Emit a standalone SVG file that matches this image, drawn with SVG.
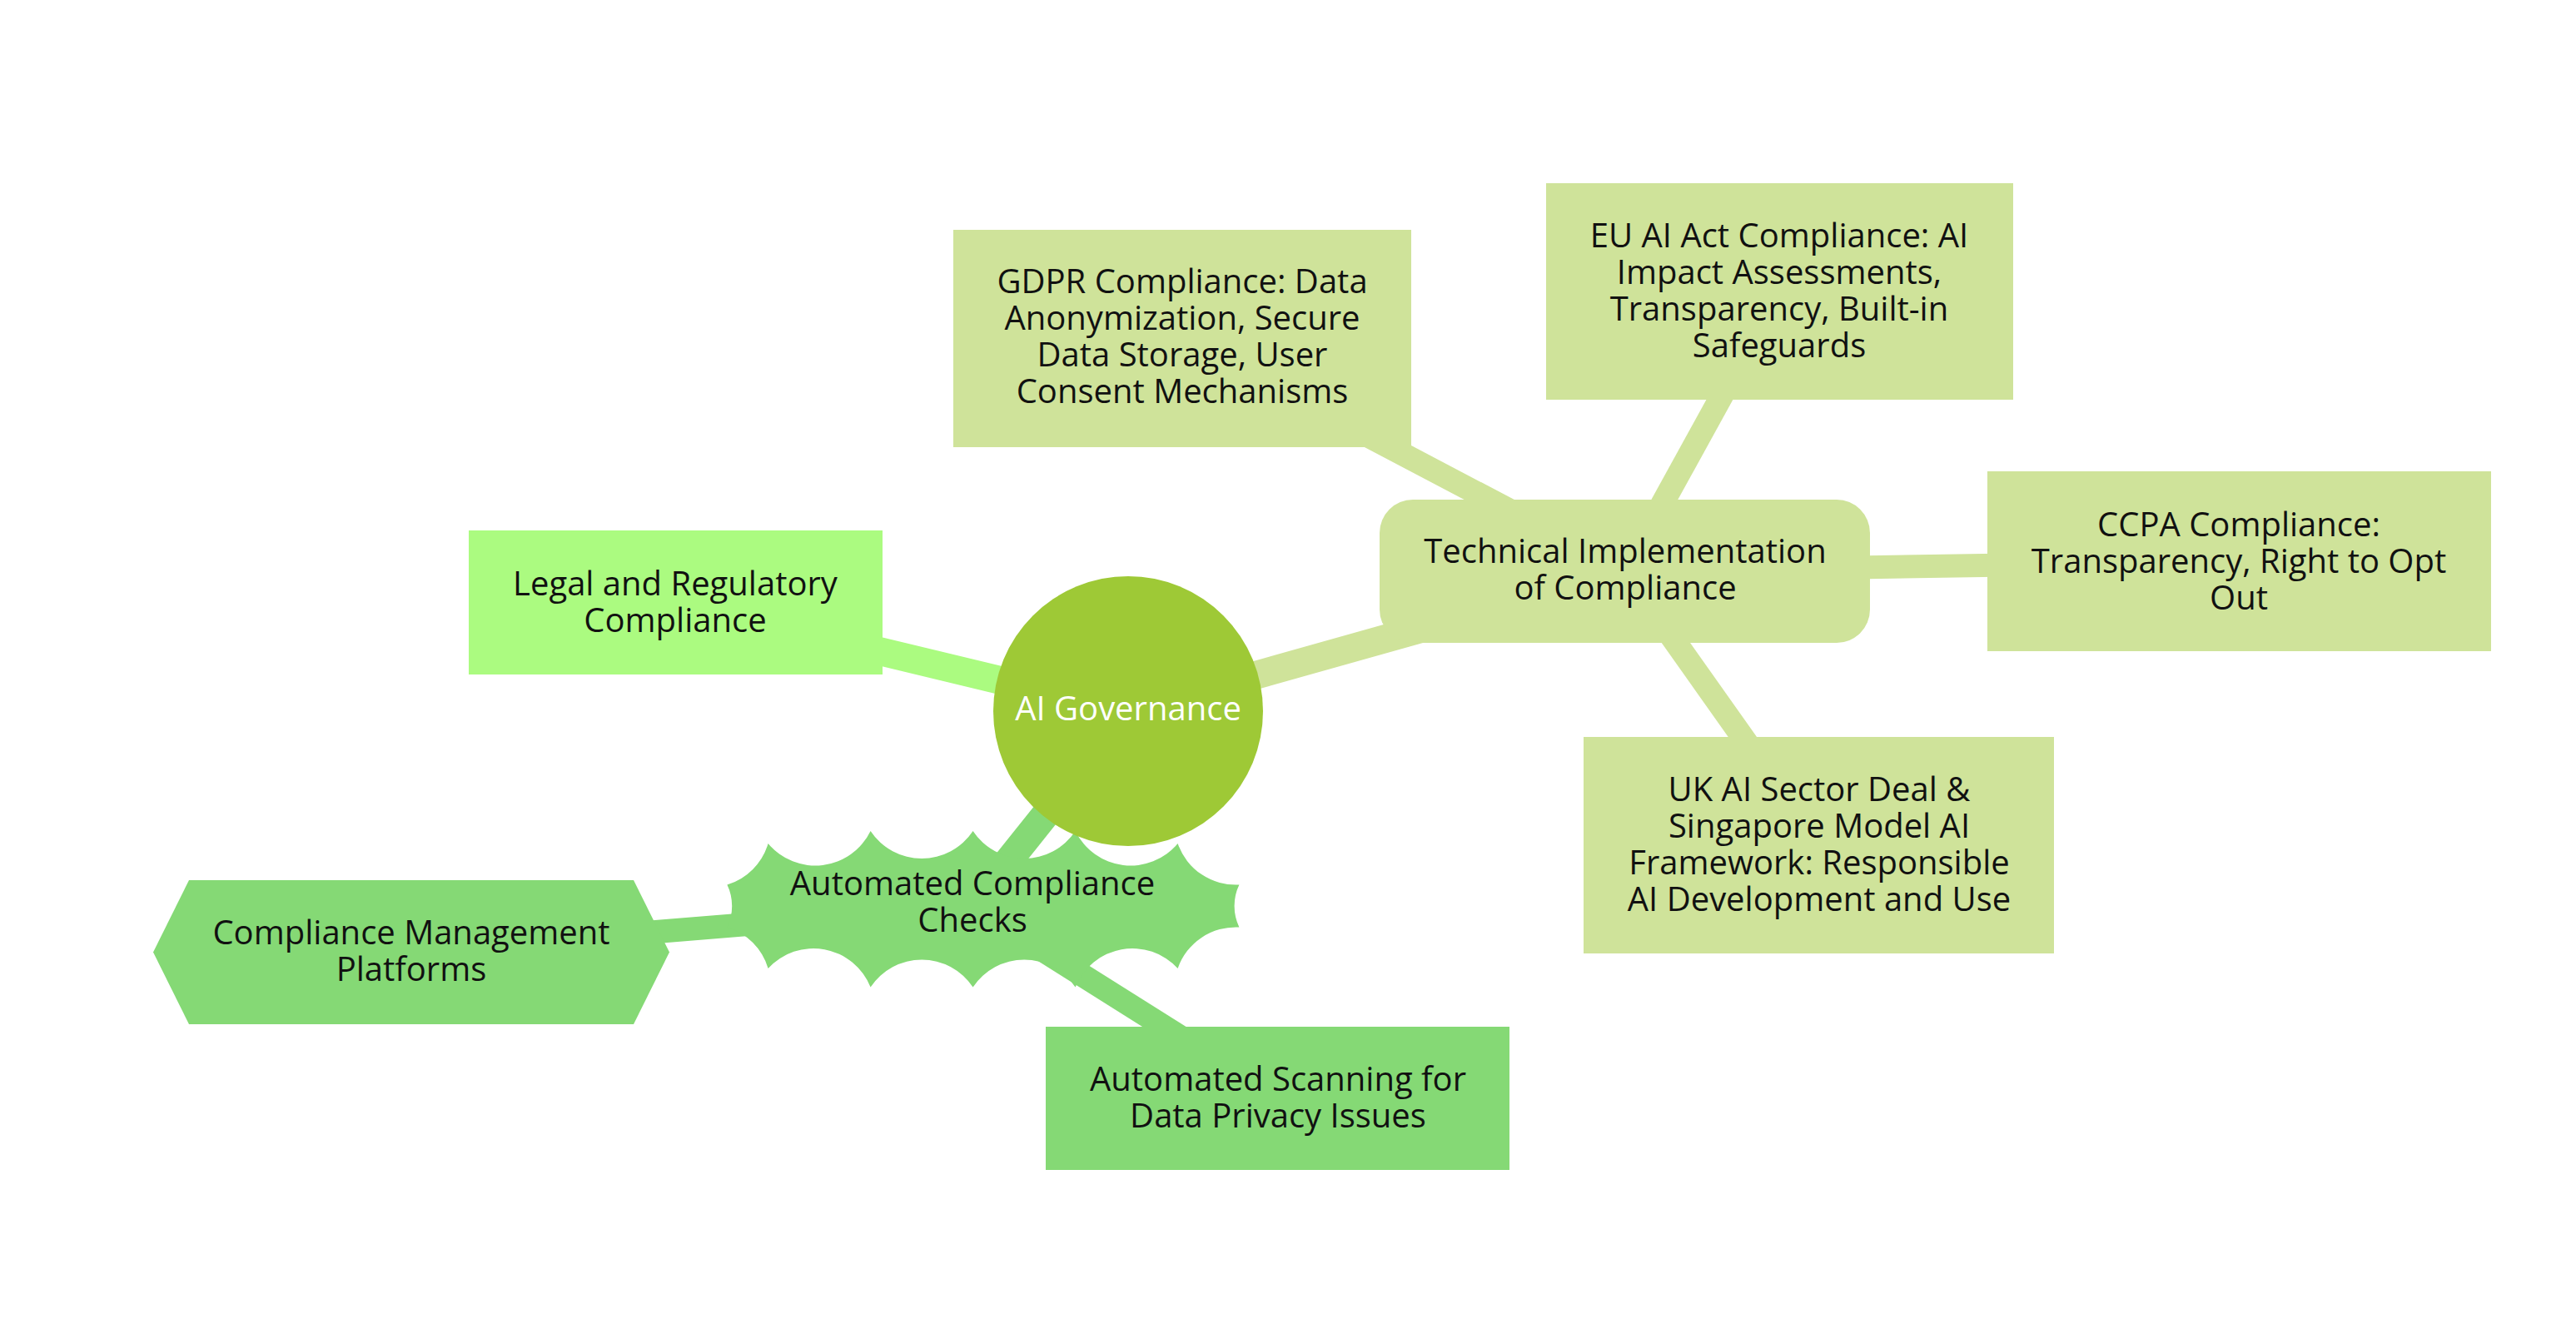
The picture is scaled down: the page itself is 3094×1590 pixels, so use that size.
<svg xmlns="http://www.w3.org/2000/svg" width="3094" height="1590" viewBox="0 0 3094 1590">
<style>
  .t { font-family: "Open Sans", "DejaVu Sans", sans-serif; font-size: 40px; fill: #111; text-anchor: middle; }
  .tw { fill: #ffffff; }
  .e0 { stroke-width: 34; fill: none; }
  .e1 { stroke-width: 28; fill: none; }
  .cLegal { fill: #abfb80; }
  .cTech { fill: #cfe39a; }
  .cAuto { fill: #85d975; }
  .sLegal { stroke: #abfb80; }
  .sTech { stroke: #cfe39a; }
  .sAuto { stroke: #85d975; }
</style>
<rect x="0" y="0" width="3094" height="1590" fill="#ffffff"/>
<g id="connectors">
  <line class="e0 sLegal" x1="1355" y1="854" x2="811" y2="723"/>
  <line class="e0 sTech" x1="1355" y1="854" x2="1952" y2="686"/>
  <line class="e0 sAuto" x1="1355" y1="854" x2="1168" y2="1088"/>
  <line class="e1 sTech" x1="1952" y1="686" x2="1420" y2="406"/>
  <line class="e1 sTech" x1="1952" y1="686" x2="2137" y2="350"/>
  <line class="e1 sTech" x1="1952" y1="686" x2="2689" y2="674"/>
  <line class="e1 sTech" x1="1952" y1="686" x2="2185" y2="1015"/>
  <line class="e1 sAuto" x1="1168" y1="1088" x2="494" y2="1143"/>
  <line class="e1 sAuto" x1="1168" y1="1088" x2="1535" y2="1319"/>
</g>
<g id="node-legal">
  <rect class="cLegal" x="563" y="637" width="497" height="173"/>
  <text class="t" x="811" y="715">Legal and Regulatory</text>
  <text class="t" x="811" y="759">Compliance</text>
</g>
<g id="node-technical">
  <rect class="cTech" x="1657" y="600" width="589" height="172" rx="40" ry="40"/>
  <text class="t" x="1952" y="676">Technical Implementation</text>
  <text class="t" x="1952" y="720">of Compliance</text>
</g>
<g id="node-gdpr">
  <rect class="cTech" x="1145" y="276" width="550" height="261"/>
  <text class="t" x="1420" y="352">GDPR Compliance: Data</text>
  <text class="t" x="1420" y="396">Anonymization, Secure</text>
  <text class="t" x="1420" y="440">Data Storage, User</text>
  <text class="t" x="1420" y="484">Consent Mechanisms</text>
</g>
<g id="node-euaiact">
  <rect class="cTech" x="1857" y="220" width="561" height="260"/>
  <text class="t" x="2137" y="297">EU AI Act Compliance: AI</text>
  <text class="t" x="2137" y="341">Impact Assessments,</text>
  <text class="t" x="2137" y="385">Transparency, Built-in</text>
  <text class="t" x="2137" y="429">Safeguards</text>
</g>
<g id="node-ccpa">
  <rect class="cTech" x="2387" y="566" width="605" height="216"/>
  <text class="t" x="2689" y="644">CCPA Compliance:</text>
  <text class="t" x="2689" y="688">Transparency, Right to Opt</text>
  <text class="t" x="2689" y="732">Out</text>
</g>
<g id="node-uk">
  <rect class="cTech" x="1902" y="885" width="565" height="260"/>
  <text class="t" x="2185" y="962">UK AI Sector Deal &amp;</text>
  <text class="t" x="2185" y="1006">Singapore Model AI</text>
  <text class="t" x="2185" y="1050">Framework: Responsible</text>
  <text class="t" x="2185" y="1094">AI Development and Use</text>
</g>
<g id="node-automated-checks">
  <path class="cAuto" transform="translate(922.6,1013)" d="M0 0 a73.8,73.8 1 0,0 123,-15 a73.8,73.8 1 0,0 123,0 a73.8,73.8 1 0,0 123,0 a73.8,73.8 1 0,0 123,15 a73.8,73.8 1 0,0 73.8,49.5 a59.04,59.04 1 0,0 0,51 a73.8,73.8 1 0,0 -73.8,49.5 a73.8,73.8 1 0,0 -123,22.5 a73.8,73.8 1 0,0 -123,0 a73.8,73.8 1 0,0 -123,0 a73.8,73.8 1 0,0 -123,-22.5 a73.8,73.8 1 0,0 -49.2,-49.5 a59.04,59.04 1 0,0 0,-51 a73.8,73.8 1 0,0 49.2,-49.5 H0 V0 Z"/>
  <text class="t" x="1168" y="1075">Automated Compliance</text>
  <text class="t" x="1168" y="1119">Checks</text>
</g>
<g id="node-platforms">
  <polygon class="cAuto" points="227,1057 761,1057 804,1143.5 761,1230 227,1230 184,1143.5"/>
  <text class="t" x="494" y="1134">Compliance Management</text>
  <text class="t" x="494" y="1178">Platforms</text>
</g>
<g id="node-scanning">
  <rect class="cAuto" x="1256" y="1233" width="557" height="172"/>
  <text class="t" x="1535" y="1310">Automated Scanning for</text>
  <text class="t" x="1535" y="1354">Data Privacy Issues</text>
</g>
<g id="node-root">
  <circle cx="1355" cy="854" r="162" fill="#9ec936"/>
  <text class="t tw" x="1355" y="865">AI Governance</text>
</g>
</svg>
